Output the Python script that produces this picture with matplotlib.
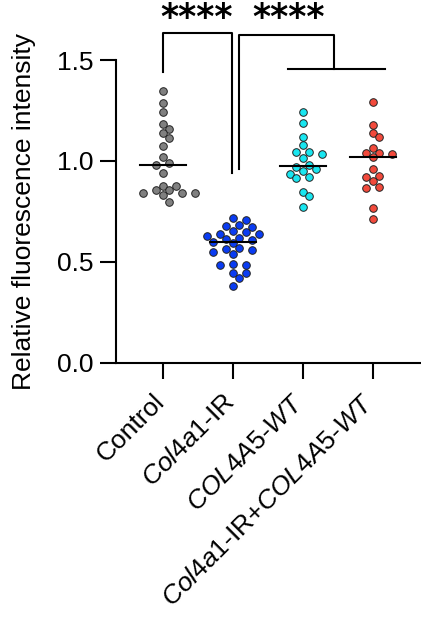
import numpy as np
import matplotlib
matplotlib.use("Agg")
import matplotlib.pyplot as plt
from matplotlib.transforms import ScaledTranslation

plt.rcParams['font.family'] = ['Liberation Sans', 'DejaVu Sans']
plt.rcParams['mathtext.fontset'] = 'custom'
plt.rcParams['mathtext.rm'] = 'Liberation Sans'
plt.rcParams['mathtext.it'] = 'Liberation Sans:italic'

# ---- data ----
categories = ['Control', r'$\mathit{Col4a1}$-IR', r'$\mathit{COL4A5}$-$\mathit{WT}$',
              r'$\mathit{Col4a1}$-IR+$\mathit{COL4A5}$-$\mathit{WT}$']
control = [1.347, 1.286, 1.241, 1.182, 1.157, 1.137, 1.112, 1.076, 1.018, 0.992, 0.980,
           0.942, 0.878, 0.878, 0.856, 0.856, 0.843, 0.840, 0.840, 0.831, 0.795]
col4a1_ir = [0.716, 0.707, 0.683, 0.679, 0.674, 0.653, 0.646, 0.636, 0.636, 0.630,
             0.617, 0.612, 0.608, 0.600, 0.592, 0.570, 0.564, 0.559, 0.550, 0.537,
             0.489, 0.484, 0.484, 0.443, 0.443, 0.421, 0.382]
col4a5_wt = [1.244, 1.190, 1.117, 1.079, 1.046, 1.033, 1.046, 1.013, 0.980, 0.960, 0.969,
             0.949, 0.936, 0.919, 0.914, 0.848, 0.825, 0.774]
combined = [1.290, 1.178, 1.137, 1.117, 1.063, 1.041, 1.033, 1.038, 1.018, 0.960, 0.927,
            0.922, 0.898, 0.865, 0.870, 0.769, 0.711]
series = [control, col4a1_ir, col4a5_wt, combined]
colors = ['#808080', '#0a3cf2', '#19e6f0', '#f24a3c']
yticks = [0.0, 0.5, 1.0, 1.5]
stars = ['****', '****']

W, H, DPI = 421, 622, 100
fig = plt.figure(figsize=(W / DPI, H / DPI), dpi=DPI)
left, bottom = 116 / W, (H - 362.7) / H
top = (H - 60) / H
ax = fig.add_axes([left, bottom, 1 - left, top - bottom])
ax.set_ylim(0, 1.5)
ax.set_xlim(-0.667, 3.69)

# pixel scales for swarm layout
xs_px = (W - 116) / (3.69 + 0.667)
ys_px = (362.7 - 60) / 1.5
d = 7.6  # marker diameter in px


def swarm(vals):
    vals = np.asarray(vals, float)
    order = np.argsort(vals)[::-1]
    placed = []
    offs = np.zeros(len(vals))
    cands = [0]
    for m in range(1, 12):
        cands += [m, -m]
    for i in order:
        y = vals[i] * ys_px
        for c in cands:
            x = c * d * 0.86
            if all((x - px) ** 2 + (y - py) ** 2 >= (d * 0.98) ** 2 for px, py in placed):
                break
        placed.append((x, y))
        offs[i] = x / xs_px
    return offs


for i, (vals, col) in enumerate(zip(series, colors)):
    offs = swarm(vals)
    ax.scatter(i + offs, vals, s=(d * 72 / DPI) ** 2, c=col, edgecolors='#222222',
               linewidths=0.7, zorder=3, clip_on=False)
    med = np.median(vals)
    ax.plot([i - 0.33, i + 0.33], [med, med], color='black', lw=1.5, zorder=4)

for s in ['top', 'right']:
    ax.spines[s].set_visible(False)
ax.spines['left'].set_linewidth(1.5)
ax.spines['bottom'].set_linewidth(1.5)
ax.set_yticks(yticks)
ax.set_yticklabels([f'{v:.1f}' for v in yticks])
ax.set_xticks(range(4))
ax.set_xticklabels(categories, rotation=45, ha='right', va='center', rotation_mode='anchor')
ax.tick_params(axis='both', length=11.5, width=1.5, labelsize=19, color='black')
ax.tick_params(axis='y', pad=5)
ax.tick_params(axis='x', pad=4)
for lab in ax.get_xticklabels():
    lab.set_transform(lab.get_transform() + ScaledTranslation(-2 / DPI, -14 / DPI, fig.dpi_scale_trans))
ax.set_ylabel('Relative fluorescence intensity', fontsize=19, labelpad=15)

# significance brackets
kw = dict(color='black', lw=1.5, clip_on=False)
ax.plot([0, 0, 0.994, 0.994], [1.443, 1.633, 1.633, 0.942], **kw)
ax.plot([1.09, 1.09, 2.45, 2.45], [0.96, 1.625, 1.625, 1.455], **kw)
ax.plot([1.79, 3.17], [1.455, 1.455], **kw)
for xs, st in zip([0.49, 1.80], stars):
    ax.text(xs, 1.657, st, ha='center', va='baseline', fontsize=25,
            fontweight='bold', family='DejaVu Sans', clip_on=False)

fig.savefig('out.png', dpi=DPI)
